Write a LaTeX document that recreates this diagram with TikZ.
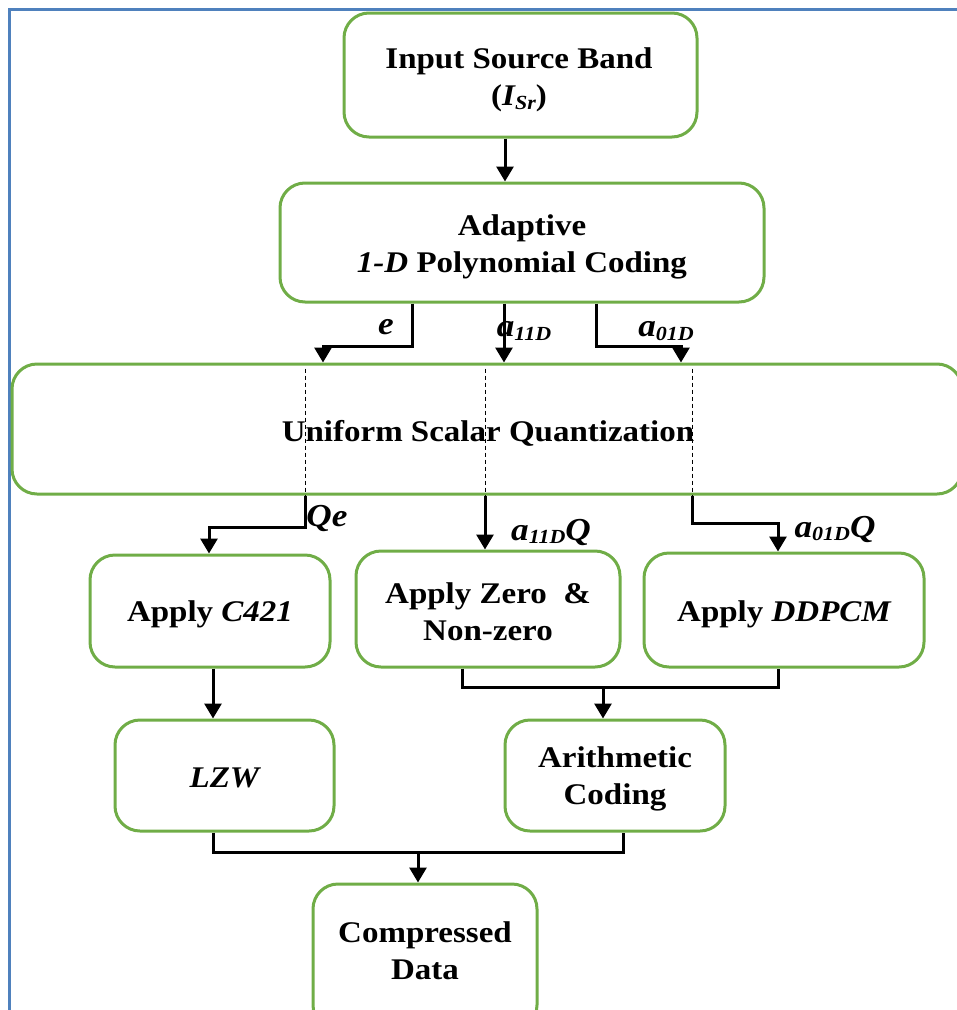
\documentclass[tikz,border=0pt]{standalone}
\usepackage{fontspec}
\setmainfont{Liberation Serif}[FakeStretch=1.1]
\usetikzlibrary{arrows.meta,calc}
\definecolor{boxgreen}{RGB}{112,173,71}
\definecolor{frameblue}{RGB}{79,129,189}
\newcommand\mysub[1]{\raisebox{-0.12em}{\fontsize{20}{20}\selectfont #1}}
\tikzset{
  box/.style={draw=boxgreen, line width=3pt, rounded corners=25pt, inner sep=0pt},
  txt/.style={align=center, font=\bfseries\fontsize{30}{37}\selectfont, inner sep=0pt},
  conn/.style={line width=3pt, draw=black},
  arr/.style={conn, -{Triangle[width=17pt,length=15pt]}},
  dsh/.style={line width=0.7pt, draw=black, dash pattern=on 4pt off 3pt},
  lbl/.style={font=\bfseries\itshape\fontsize{32}{32}\selectfont, inner sep=0pt}
}
\begin{document}
\begin{tikzpicture}[x=1pt,y=-1pt]
\useasboundingbox (0,0) rectangle (957,1010);
% frame
\coordinate (fbl) at (9,1012);
\coordinate (ftl) at (9,9);
\coordinate (ftr) at (960,9);
\draw[frameblue, line width=3pt] (fbl) -- (ftl) -- (ftr);
% boxes
\node[box, minimum width=353pt, minimum height=124pt] (in) at (520.5,75) {};
\node[txt] (intxt) at (519,80) {Input Source Band\\({\itshape I}\mysub{\itshape Sr})};
\node[box, minimum width=484pt, minimum height=119pt] (ad) at (522,242.5) {};
\node[txt] (adtxt) at (522,247) {Adaptive\\{\itshape 1-D} Polynomial Coding};
\node[box, minimum width=950pt, minimum height=130pt] (usq) at (487,429) {};
\node[txt] (usqtxt) at (488,433) {Uniform Scalar Quantization};
\node[box, minimum width=240pt, minimum height=112pt] (c421) at (210,611) {};
\node[txt] (c421txt) at (210,614) {Apply {\itshape C421}};
\node[box, minimum width=264pt, minimum height=116pt] (zero) at (488,609) {};
\node[txt] (zerotxt) at (488,612) {Apply Zero \ \&\\Non-zero};
\node[box, minimum width=280pt, minimum height=114pt] (ddpcm) at (784,610) {};
\node[txt] (ddpcmtxt) at (784,614) {Apply {\itshape DDPCM}};
\node[box, minimum width=219pt, minimum height=111pt] (lzw) at (224.5,775.5) {};
\node[txt] (lzwtxt) at (224.5,778) {\itshape LZW};
\node[box, minimum width=220pt, minimum height=111pt] (arith) at (615,775.5) {};
\node[txt] (arithtxt) at (615,779) {Arithmetic\\Coding};
\node[box, minimum width=224pt, minimum height=146pt] (comp) at (425,957) {};
\node[txt] (comptxt) at (425,951) {Compressed\\Data};
% x positions
\coordinate (xa) at (505,0);
\coordinate (xe) at (412,0);
\coordinate (xeq) at (323,0);
\coordinate (xa11) at (504,0);
\coordinate (xa01) at (596,0);
\coordinate (xa01q) at (681,0);
\coordinate (xd1) at (305,0);
\coordinate (xd2) at (485,0);
\coordinate (xd3) at (692,0);
\coordinate (xq) at (209,0);
\coordinate (xdq) at (778,0);
\coordinate (xc) at (213,0);
\coordinate (xz) at (462,0);
\coordinate (xdd) at (778,0);
\coordinate (xl) at (213,0);
\coordinate (xarb) at (623,0);
% connectors
\draw[arr] (in.south -| xa) -- (ad.north -| xa);
\draw[arr] (ad.south -| xe) -- ++(0,43) -| (usq.north -| xeq);
\draw[arr] (ad.south -| xa11) -- (usq.north -| xa11);
\draw[arr] (ad.south -| xa01) -- ++(0,43) -| (usq.north -| xa01q);
\draw[dsh] ($(usq.north -| xd1)+(0,6)$) -- (usq.south -| xd1);
\draw[dsh] ($(usq.north -| xd2)+(0,6)$) -- (usq.south -| xd2);
\draw[dsh] ($(usq.north -| xd3)+(0,6)$) -- (usq.south -| xd3);
\draw[arr] (usq.south -| xd1) -- ++(0,32) -| (c421.north -| xq);
\draw[arr] (usq.south -| xd2) -- (zero.north -| xd2);
\draw[arr] (usq.south -| xd3) -- ++(0,28) -| (ddpcm.north -| xdq);
\draw[arr] (c421.south -| xc) -- (lzw.north -| xc);
\coordinate (bar1) at (603,687);
\draw[conn] (zero.south -| xz) |- (bar1) -| (ddpcm.south -| xdd);
\draw[arr] (bar1) -- (arith.north -| bar1);
\coordinate (bar2) at (418,852);
\draw[conn] (lzw.south -| xl) |- (bar2) -| (arith.south -| xarb);
\draw[arr] (bar2) -- (comp.north -| bar2);
% labels
\node[lbl] (le) at (386,327) {e};
\node[lbl] (la11) at (524,331) {a\mysub{11D}};
\node[lbl] (la01) at (666,331) {a\mysub{01D}};
\node[lbl] (lqe) at (327,518) {Qe};
\node[lbl] (la11q) at (551,532) {a\mysub{11D}Q};
\node[lbl] (la01q) at (835,529) {a\mysub{01D}Q};
\end{tikzpicture}
\end{document}
